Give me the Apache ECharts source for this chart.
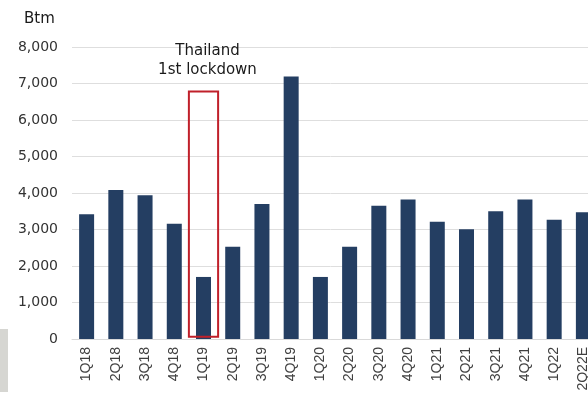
<!DOCTYPE html>
<html>
<head>
<meta charset="utf-8">
<script src="https://cdn.jsdelivr.net/npm/echarts@6/dist/echarts.min.js"></script>
<style>
html,body{margin:0;padding:0;background:#fff;}
#chart{width:588px;height:394px;}
</style>
</head>
<body>
<div id="chart"></div>
<script>
const categories = ['1Q18','2Q18','3Q18','4Q18','1Q19','2Q19','3Q19','4Q19','1Q20','2Q20','3Q20','4Q20','1Q21','2Q21','3Q21','4Q21','1Q22','2Q22E'];
const values = [3420, 4080, 3940, 3160, 1700, 2530, 3700, 7190, 1700, 2530, 3650, 3820, 3215, 3010, 3500, 3820, 3270, 3470];
const yTicks = [0, 1000, 2000, 3000, 4000, 5000, 6000, 7000, 8000];
const unitLabel = 'Btm';
const highlightBox = { category: '1Q19', from: 60, to: 6780, label: 'Thailand\n1st lockdown' };

const chart = echarts.init(document.getElementById('chart'), null, { renderer: 'canvas' });

chart.setOption({
  animation: false,
  backgroundColor: '#ffffff',
  title: {
    text: unitLabel,
    left: 19,
    top: 7,
    textStyle: { fontFamily: 'DejaVu Sans', fontSize: 15, fontWeight: 'normal', color: '#1a1a1a' }
  },
  graphic: [{
    type: 'rect',
    left: 0,
    top: 329,
    shape: { width: 8, height: 63 },
    style: { fill: '#d6d6d2' },
    silent: true
  }],
  grid: { left: 72, width: 526, top: 47, bottom: 55, containLabel: false, outerBoundsMode: 'none' },
  xAxis: {
    type: 'category',
    data: categories,
    axisLine: { show: true, lineStyle: { color: '#d9d9d9', width: 1 } },
    axisTick: { show: false },
    axisLabel: {
      rotate: 90,
      interval: 0,
      margin: 8,
      fontFamily: 'Liberation Sans',
      fontSize: 14,
      color: '#404040'
    }
  },
  yAxis: {
    type: 'value',
    min: yTicks[0],
    max: yTicks[yTicks.length - 1],
    interval: yTicks[1] - yTicks[0],
    axisLine: { show: false },
    axisTick: { show: false },
    splitLine: { lineStyle: { color: '#dedede', width: 1 } },
    axisLabel: {
      margin: 14,
      fontFamily: 'DejaVu Sans',
      fontSize: 14,
      color: '#333333',
      formatter: v => v.toLocaleString('en-US')
    }
  },
  series: [
    {
      type: 'bar',
      data: values,
      barWidth: 15,
      itemStyle: { color: '#243e62' },
      z: 2
    },
    {
      type: 'custom',
      z: 5,
      data: [[highlightBox.category, highlightBox.from, highlightBox.to]],
      encode: { x: 0, y: [1, 2] },
      renderItem: function (params, api) {
        const cat = api.value(0);
        const p0 = api.coord([cat, api.value(1)]);
        const p1 = api.coord([cat, api.value(2)]);
        const bw = api.size([1, 0])[0];
        const x = p0[0] - bw / 2;
        return {
          type: 'group',
          children: [
            {
              type: 'rect',
              shape: { x: x, y: p1[1], width: bw, height: p0[1] - p1[1] },
              style: { fill: 'none', stroke: '#c0202a', lineWidth: 2 }
            },
            {
              type: 'text',
              x: p0[0] + 4,
              y: p1[1] - 12,
              style: {
                text: highlightBox.label,
                fontFamily: 'DejaVu Sans',
                fontSize: 15,
                lineHeight: 19,
                fill: '#1a1a1a',
                align: 'center',
                verticalAlign: 'bottom'
              }
            }
          ]
        };
      }
    }
  ]
});
</script>
</body>
</html>
